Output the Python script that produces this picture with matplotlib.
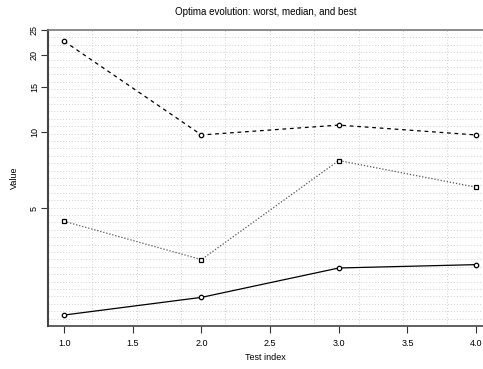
import numpy as np
import matplotlib
matplotlib.use("Agg")
import matplotlib.pyplot as plt

plt.rcParams['font.family'] = ['Liberation Sans', 'DejaVu Sans']

# test index and the worst / median / best optimum found at each
test_index = [1.0, 2.0, 3.0, 4.0]
worst = [22.6, 9.7, 10.6, 9.7]
median = [4.45, 3.15, 7.7, 6.05]
best = [1.91, 2.24, 2.92, 3.01]

y_ticks = [5, 10, 15, 20, 25]
x_ticks = [1.0, 1.5, 2.0, 2.5, 3.0, 3.5, 4.0]

fig = plt.figure(figsize=(4.83, 3.69), dpi=100)
ax = fig.add_axes([0.0994, 0.1165, 0.9006, 0.8022])

# light dotted background grid, evenly spaced in axes units
for fx in np.arange(1, 10) * 0.102:
    ax.plot([fx, fx], [0, 1], transform=ax.transAxes, color='#d0d0d0',
            lw=0.7, ls=(0, (1, 2)), zorder=0)
for fy in np.arange(1, 40) / 40:
    ax.plot([0, 1], [fy, fy], transform=ax.transAxes, color='#d0d0d0',
            lw=0.7, ls=(0, (1, 2)), zorder=0)

ax.plot(test_index, worst, color='black', lw=0.9, ls=(0, (3, 3)),
        marker='o', ms=3.2, mfc='white', mec='black', mew=0.9)
ax.plot(test_index, median, color='#555555', lw=0.9, ls=(0, (1, 1.5)),
        marker='s', ms=3.2, mfc='white', mec='black', mew=0.9)
ax.plot(test_index, best, color='black', lw=0.9, ls='-',
        marker='o', ms=3.2, mfc='white', mec='black', mew=0.9)

ax.set_yscale('log')
ax.set_ylim(1.73, 25)
ax.set_xlim(0.883, 4.05)
ax.yaxis.set_minor_locator(matplotlib.ticker.NullLocator())
ax.set_yticks(y_ticks)
ax.set_yticklabels([str(v) for v in y_ticks], rotation=90, va='center', fontsize=6.5)
ax.set_xticks(x_ticks)
ax.set_xticklabels([f'{v:.1f}' for v in x_ticks], fontsize=6.5)
ax.tick_params(length=5, width=0.8, color='#333333')
ax.tick_params(axis='x', pad=4)
ax.tick_params(axis='y', pad=1.5)

ax.spines['right'].set_visible(False)
ax.spines['left'].set_color('#444444')
ax.spines['left'].set_linewidth(1.5)
ax.spines['bottom'].set_color('#444444')
ax.spines['bottom'].set_linewidth(1.2)
ax.spines['top'].set_color('#777777')
ax.spines['top'].set_linewidth(1.2)

ax.set_xlabel('Test index', fontsize=6.5, labelpad=4)
ax.set_ylabel('Value', fontsize=6.5, labelpad=8)
ax.set_title('Optima evolution: worst, median, and best', fontsize=7, pad=11)

fig.savefig('out.png', dpi=100)
